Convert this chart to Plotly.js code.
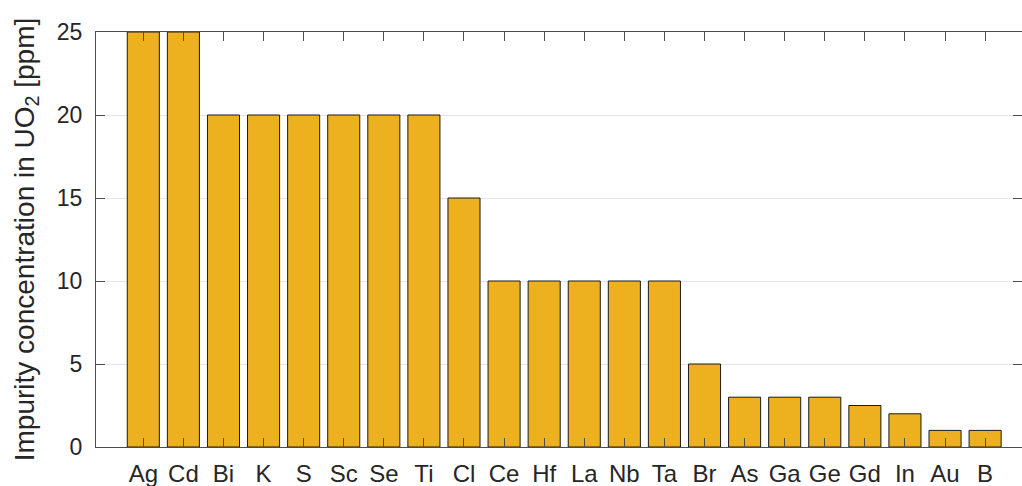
<!DOCTYPE html>
<html><head><meta charset="utf-8">
<script src="https://cdn.plot.ly/plotly-3.0.1.min.js"></script>
<style>html,body{margin:0;padding:0;background:#fff}</style>
</head><body>
<div id="chart" style="width:1022px;height:486px"></div>
<script>
const elements = ["Ag","Cd","Bi","K","S","Sc","Se","Ti","Cl","Ce","Hf","La","Nb","Ta","Br","As","Ga","Ge","Gd","In","Au","B"];
const concentrations = [25,25,20,20,20,20,20,20,15,10,10,10,10,10,5,3,3,3,2.5,2,1,1];
const yTicks = [0,5,10,15,20,25];

const font = "Liberation Sans, Arial, Helvetica, sans-serif";
const axisColor = "#4d4d4d";

Plotly.newPlot("chart", [{
  type: "bar",
  x: elements,
  y: concentrations,
  width: 0.8,
  marker: {color: "#EDB120", line: {color: "#1a1a1a", width: 1}},
  hoverinfo: "x+y"
}], {
  width: 1022, height: 486,
  margin: {l: 96, r: 0, t: 32, b: 39},
  paper_bgcolor: "#fff", plot_bgcolor: "#fff",
  showlegend: false,
  xaxis: {
    type: "category",
    range: [-1.18, 21.92],
    showline: true, linecolor: axisColor, linewidth: 1, mirror: "ticks",
    ticks: "inside", ticklen: 9, tickcolor: axisColor, tickwidth: 1,
    showgrid: false, zeroline: false,
    layer: "above traces",
    tickfont: {family: font, size: 24, color: "#262626"},
    ticklabelstandoff: 5
  },
  yaxis: {
    range: [0, 25],
    tickvals: yTicks,
    showline: true, linecolor: axisColor, linewidth: 1, mirror: "ticks",
    ticks: "inside", ticklen: 9, tickcolor: axisColor, tickwidth: 1,
    showgrid: true, gridcolor: "#e6e6e6", gridwidth: 1,
    zeroline: false,
    layer: "above traces",
    tickfont: {family: font, size: 23, color: "#262626"},
    ticklabelstandoff: 8,
    title: {text: "Impurity concentration in UO<sub>2</sub> [ppm]", font: {family: font, size: 28, color: "#262626"}, standoff: 14}
  }
}, {displayModeBar: false, staticPlot: true});
</script>
</body></html>
